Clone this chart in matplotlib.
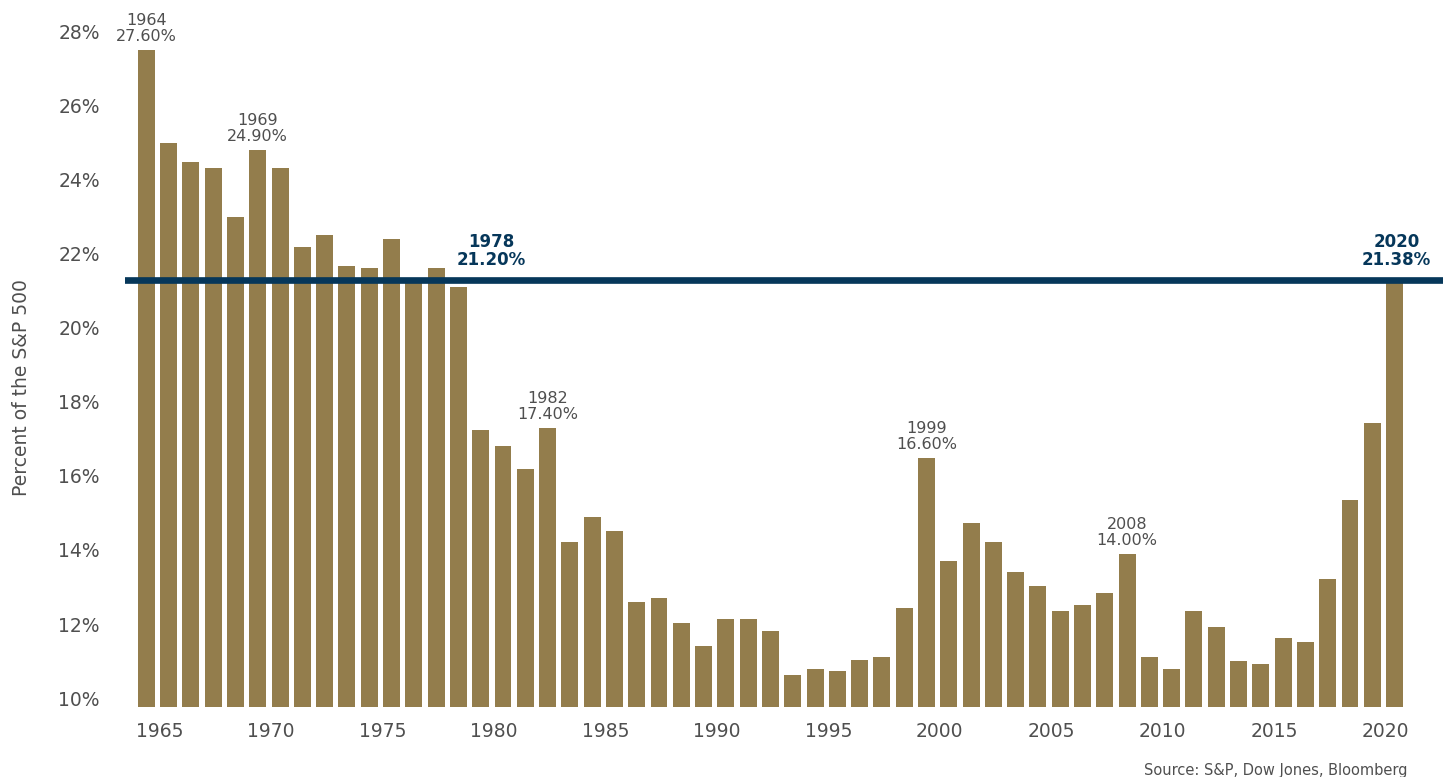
import matplotlib.pyplot as plt
import matplotlib.transforms as mtransforms

# share of the S&P 500 by year
years = list(range(1964, 2021))
share = [27.60, 25.08, 24.57, 24.42, 23.09, 24.90, 24.42, 22.28, 22.61, 21.77,
         21.72, 22.50, 21.35, 21.72, 21.20, 17.35, 16.91, 16.29, 17.40, 14.32,
         15.00, 14.62, 12.70, 12.81, 12.14, 11.52, 12.25, 12.25, 11.92, 10.74,
         10.90, 10.84, 11.14, 11.22, 12.54, 16.60, 13.81, 14.84, 14.32, 13.51,
         13.14, 12.46, 12.62, 12.95, 14.00, 11.22, 10.90, 12.46, 12.03, 11.11,
         11.03, 11.73, 11.63, 13.33, 15.46, 17.53, 21.38]

# years called out with a label above the bar
callout_years = [1964, 1969, 1982, 1999, 2008]
# years tied to the reference line
line_years = [1978, 2020]

ytick_vals = [10, 12, 14, 16, 18, 20, 22, 24, 26, 28]
xtick_vals = [1965, 1970, 1975, 1980, 1985, 1990, 1995, 2000, 2005, 2010, 2015, 2020]

bar_color = "#937d4c"
navy = "#06375a"
gray = "#4f4f4f"

plt.rcParams['font.family'] = ['DejaVu Sans']

fig = plt.figure(figsize=(14.48, 7.77), dpi=100)
ax = fig.add_axes([0.0863, 0.0905, 0.9102, 0.8929])

ax.bar(years, share, width=0.76, color=bar_color, zorder=2)

# reference line at the latest value
line_val = share[years.index(2020)]
ax.axhline(line_val, color=navy, lw=4.8, zorder=3)

ax.set_xlim(1963.04, 2022.17)
ax.set_ylim(9.88, 28.6)

ax.set_yticks(ytick_vals)
ax.set_yticklabels([f"{v}%" for v in ytick_vals])
ax.set_xticks(xtick_vals)
ax.set_xticklabels([str(v) for v in xtick_vals])
ax.tick_params(axis='y', length=0, pad=18, labelsize=13.5, labelcolor=gray)
ax.tick_params(axis='x', length=0, pad=11, labelsize=13.5, labelcolor=gray)

# nudge tick labels a little
for lab in ax.get_yticklabels():
    lab.set_transform(lab.get_transform() + mtransforms.ScaledTranslation(0, 4 / 100, fig.dpi_scale_trans))
for lab in ax.get_xticklabels():
    lab.set_transform(lab.get_transform() + mtransforms.ScaledTranslation(-9 / 100, 0, fig.dpi_scale_trans))

for s in ax.spines.values():
    s.set_visible(False)

ax.set_ylabel("Percent of the S&P 500", fontsize=13.5, color=gray, labelpad=14)
ax.yaxis.set_label_coords(-0.071, 0.46)

for y in callout_years:
    v = share[years.index(y)]
    ax.annotate(f"{y}\n{v:.2f}%", xy=(y, v), xytext=(0, 4), textcoords='offset points',
                ha='center', va='bottom', fontsize=11.5, color=gray, linespacing=1.1,
                zorder=4)

line_offsets = {1978: 23.4, 2020: 1.5}
for y in line_years:
    v = share[years.index(y)]
    ax.annotate(f"{y}\n{v:.2f}%", xy=(y, line_val), xytext=(line_offsets[y], 8),
                textcoords='offset points', ha='center', va='bottom', fontsize=12,
                fontweight='bold', color=navy, linespacing=1.05, zorder=4)

fig.text(1408 / 1448, 1 - 770 / 777, "Source: S&P, Dow Jones, Bloomberg",
         ha='right', va='center', fontsize=10.5, color=gray)

fig.savefig("out.png", dpi=100)
